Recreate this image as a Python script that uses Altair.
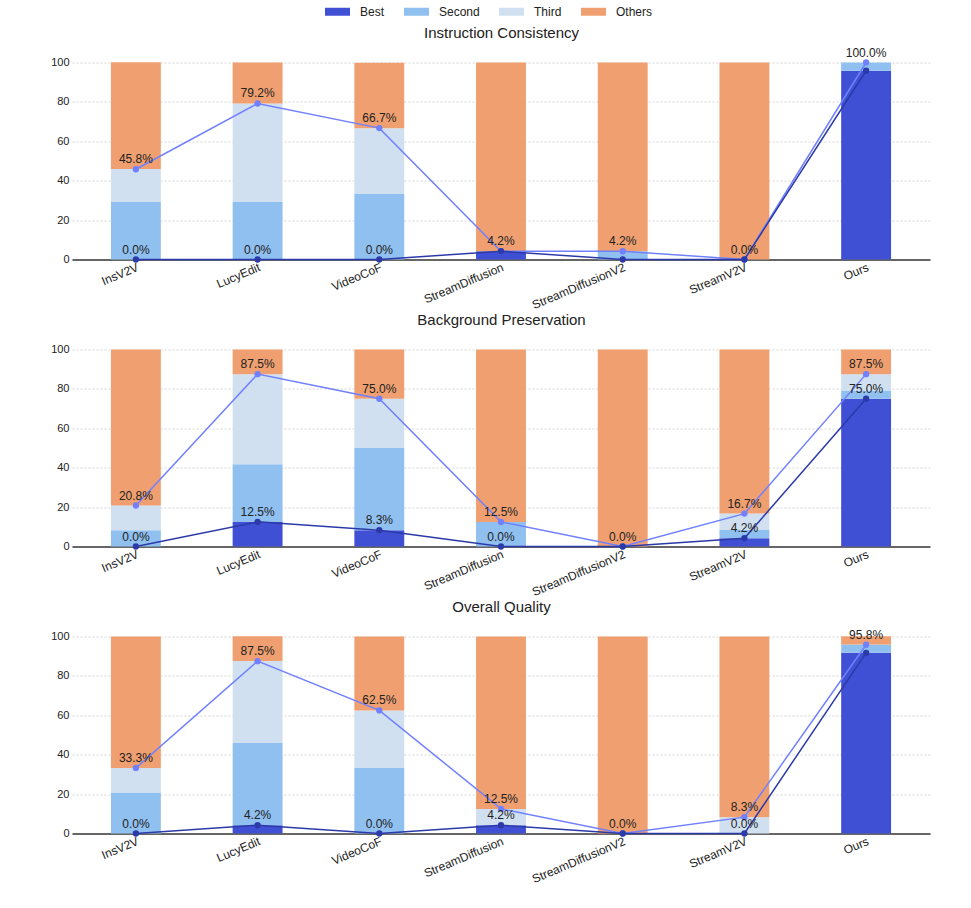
import altair as alt
import pandas as pd

models = ["InsV2V", "LucyEdit", "VideoCoF", "StreamDiffusion", "StreamDiffusionV2", "StreamV2V", "Ours"]
metrics = ["Instruction Consistency", "Background Preservation", "Overall Quality"]
categories = ["Best", "Second", "Third", "Others"]
cat_colors = ["#4050d4", "#90c0f0", "#d0e0f0", "#f0a070"]

# Instruction Consistency (%)
ic_best = [0.0, 0.0, 0.0, 4.2, 0.0, 0.0, 95.8]
ic_second = [29.2, 29.2, 33.3, 0.0, 4.2, 0.0, 4.2]
ic_third = [16.7, 50.0, 33.3, 0.0, 0.0, 0.0, 0.0]
ic_others = [54.2, 20.8, 33.3, 95.8, 95.8, 100.0, 0.0]
ic_top3 = [45.8, 79.2, 66.7, 4.2, 4.2, 0.0, 100.0]

# Background Preservation (%)
bp_best = [0.0, 12.5, 8.3, 0.0, 0.0, 4.2, 75.0]
bp_second = [8.3, 29.2, 41.7, 12.5, 0.0, 4.2, 4.2]
bp_third = [12.5, 45.8, 25.0, 0.0, 0.0, 8.3, 8.3]
bp_others = [79.2, 12.5, 25.0, 87.5, 100.0, 83.3, 12.5]
bp_top3 = [20.8, 87.5, 75.0, 12.5, 0.0, 16.7, 87.5]

# Overall Quality (%)
oq_best = [0.0, 4.2, 0.0, 4.2, 0.0, 0.0, 91.7]
oq_second = [20.8, 41.7, 33.3, 0.0, 0.0, 0.0, 4.2]
oq_third = [12.5, 41.7, 29.2, 8.3, 0.0, 8.3, 0.0]
oq_others = [66.7, 12.5, 37.5, 87.5, 100.0, 91.7, 4.2]
oq_top3 = [33.3, 87.5, 62.5, 12.5, 0.0, 8.3, 95.8]

series = {
    "Instruction Consistency": (ic_best, ic_second, ic_third, ic_others, ic_top3),
    "Background Preservation": (bp_best, bp_second, bp_third, bp_others, bp_top3),
    "Overall Quality": (oq_best, oq_second, oq_third, oq_others, oq_top3),
}

bar_rows, line_rows = [], []
for m in metrics:
    b, s, t, o, top3 = series[m]
    for i, model in enumerate(models):
        for rank, (cat, vals) in enumerate(zip(categories, (b, s, t, o))):
            bar_rows.append({"metric": m, "model": model, "category": cat, "rank": rank, "value": vals[i]})
        line_rows.append({"metric": m, "model": model, "best": b[i], "top3": top3[i]})

bar_df = pd.DataFrame(bar_rows)
line_df = pd.DataFrame(line_rows)

FONT = "Liberation Sans"
LIGHT = "#7080ff"
DARK = "#2b3aa8"
W, H = 858, 197
XSCALE = alt.Scale(paddingInner=0.59, paddingOuter=0.32)
YSCALE = alt.Scale(domain=[0, 100], nice=False)


def panel(metric):
    x_bottom = alt.X(
        "model:N", sort=models, title=None, scale=XSCALE,
        axis=alt.Axis(labelAngle=-23, labelFontSize=12, labelColor="#222", ticks=False, tickSize=0,
                      domainColor="#666", domainWidth=2, labelPadding=2, grid=False),
    )
    x_top = alt.X(
        "model:N", sort=models, scale=XSCALE,
        axis=alt.Axis(orient="top", title=metric, titleFontSize=15, titleFontWeight="normal",
                      titleColor="#222", titleFont=FONT, titlePadding=22, labels=False,
                      ticks=False, domain=False, grid=False),
    )
    x_none = alt.X("model:N", sort=models, scale=XSCALE, axis=None)
    y_axis = alt.Axis(values=[0, 20, 40, 60, 80, 100], labelFontSize=11, labelColor="#222",
                      ticks=False, tickSize=0, domain=False, grid=True, gridDash=[2, 2],
                      gridColor="#d4d4d4", labelPadding=3)
    legend = alt.Legend(title=None, orient="none", direction="horizontal",
                        legendX=259, legendY=-57.5, padding=0,
                        symbolType="M-2,-0.64H2V0.64H-2Z", symbolSize=156.25,
                        symbolStrokeWidth=0, labelFontSize=12, labelColor="#222",
                        labelOffset=16, columnPadding=19)
    bars = alt.Chart(bar_df).transform_filter(alt.datum.metric == metric).mark_bar().encode(
        x=x_bottom,
        y=alt.Y("value:Q", stack="zero", title=None, scale=YSCALE, axis=y_axis),
        color=alt.Color("category:N", scale=alt.Scale(domain=categories, range=cat_colors), legend=legend),
        order=alt.Order("rank:Q", sort="ascending"),
    )
    lbase = alt.Chart(line_df).transform_filter(alt.datum.metric == metric)
    light = lbase.mark_line(color=LIGHT, strokeWidth=1.5,
                            point=alt.OverlayMarkDef(filled=True, size=40, color=LIGHT, opacity=1)).encode(
        x=x_top, y=alt.Y("top3:Q", scale=YSCALE, axis=None))
    dark = lbase.mark_line(color=DARK, strokeWidth=1.5,
                           point=alt.OverlayMarkDef(filled=True, size=40, color=DARK, opacity=1)).encode(
        x=x_none, y=alt.Y("best:Q", scale=YSCALE, axis=None))
    light_txt = lbase.transform_calculate(
        lab="format(datum.top3, '.1f') + '%'"
    ).mark_text(dy=-10, fontSize=12, color="#222", font=FONT).encode(
        x=x_none, y=alt.Y("top3:Q", scale=YSCALE, axis=None), text="lab:N")
    dark_txt = lbase.transform_filter(
        "datum.top3 - datum.best >= 5"
    ).transform_calculate(
        lab="format(datum.best, '.1f') + '%'"
    ).mark_text(dy=-10, fontSize=12, color="#222", font=FONT).encode(
        x=x_none, y=alt.Y("best:Q", scale=YSCALE, axis=None), text="lab:N")
    return alt.layer(bars, light, dark, light_txt, dark_txt).resolve_axis(
        x="independent", y="independent").properties(width=W, height=H)


chart = alt.vconcat(
    panel(metrics[0]), panel(metrics[1]), panel(metrics[2]), spacing=1
).properties(
    padding={"left": 50, "top": 4.5, "right": 5, "bottom": 5}
).configure(font=FONT).configure_view(stroke=None)

chart.save("out.html", embed_options={"renderer": "svg", "actions": False})
